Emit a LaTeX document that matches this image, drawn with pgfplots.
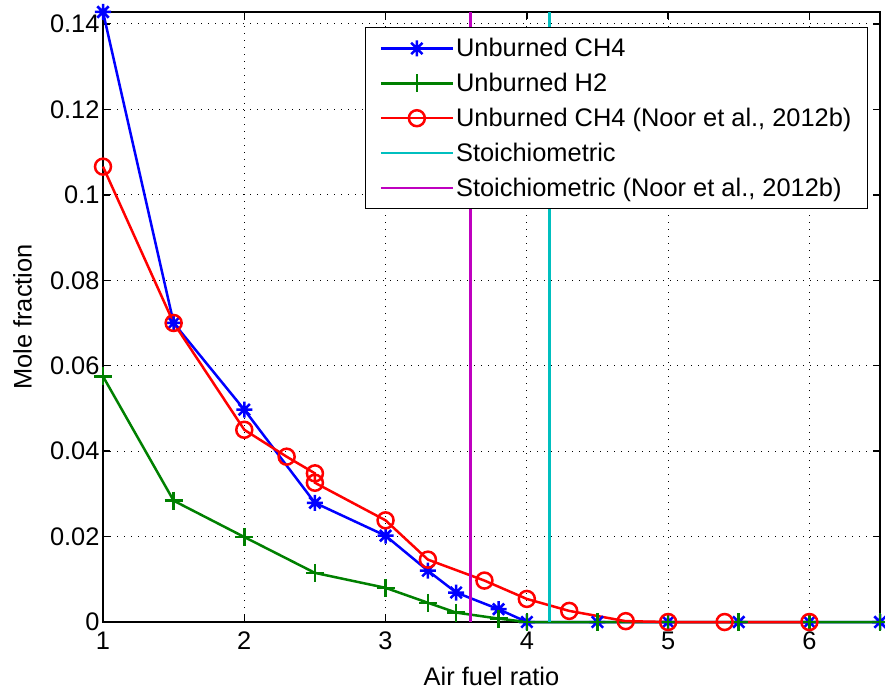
\documentclass[border=0pt]{standalone}
\usepackage{fontspec}
\setmainfont{Liberation Sans}
\usepackage{pgfplots}
\pgfplotsset{compat=1.18}

\definecolor{mblue}{RGB}{0,0,255}
\definecolor{mgreen}{RGB}{0,128,0}
\definecolor{mred}{RGB}{255,0,0}
\definecolor{mcyan}{RGB}{0,191,191}
\definecolor{mmag}{RGB}{191,0,191}

% matlab style asterisk: plus and cross together
\pgfdeclareplotmark{mstar}{%
  \pgfpathmoveto{\pgfpoint{-\pgfplotmarksize}{0pt}}%
  \pgfpathlineto{\pgfpoint{\pgfplotmarksize}{0pt}}%
  \pgfpathmoveto{\pgfpoint{0pt}{-\pgfplotmarksize}}%
  \pgfpathlineto{\pgfpoint{0pt}{\pgfplotmarksize}}%
  \pgfpathmoveto{\pgfpoint{-.707\pgfplotmarksize}{-.707\pgfplotmarksize}}%
  \pgfpathlineto{\pgfpoint{.707\pgfplotmarksize}{.707\pgfplotmarksize}}%
  \pgfpathmoveto{\pgfpoint{-.707\pgfplotmarksize}{.707\pgfplotmarksize}}%
  \pgfpathlineto{\pgfpoint{.707\pgfplotmarksize}{-.707\pgfplotmarksize}}%
  \pgfusepathqstroke}

\newcommand{\bigfont}{\fontsize{25.5}{30}\selectfont}

\begin{document}
\begin{tikzpicture}
\begin{axis}[
  scale only axis,
  width=777bp, height=610bp,
  xmin=1, xmax=6.5,
  ymin=0, ymax=0.1428,
  xtick={1,2,3,4,5,6},
  ytick={0,0.02,0.04,0.06,0.08,0.1,0.12,0.14},
  scaled y ticks=false,
  yticklabel style={/pgf/number format/fixed, /pgf/number format/precision=2},
  xticklabel style={yshift=-6bp},
  /pgf/number format/assume math mode=true,
  tick label style={font=\bigfont},
  label style={font=\bigfont},
  xlabel={Air fuel ratio},
  ylabel={Mole fraction},
  xlabel style={at={(axis description cs:0.5,-0.090)}, anchor=center},
  ylabel style={at={(axis description cs:-0.1036,0.5)}, anchor=center},
  axis line style={line width=2bp},
  tick align=inside,
  major tick length=7bp,
  tick style={black, line width=1.5bp},
  grid=major,
  major grid style={black, line width=1bp, dash pattern=on 1.2bp off 5.8bp},
  clip=false,
  legend style={at={(1,1)}, anchor=north east, xshift=-12bp, yshift=-15bp,
    draw=black, line width=1bp, fill=white,
    font=\bigfont,
    row sep=11bp, inner xsep=14bp, inner ysep=9bp},
  legend cell align=left,
  legend image code/.code={%
    \draw[mark repeat=2, mark phase=2, #1]
      plot coordinates {(0bp,0bp) (36bp,0bp) (72bp,0bp)};},
]
\addplot[mblue, line width=2.5bp, mark=mstar, mark size=8bp, mark options={solid}]
  coordinates {(1,0.1428) (1.5,0.0700) (2,0.0497) (2.5,0.0279) (3,0.0202)
    (3.3,0.0120) (3.5,0.0069) (3.8,0.0030) (4,0) (4.5,0) (5,0)
    (5.5,0) (6,0) (6.5,0)};
\addlegendentry{Unburned CH4}
\addplot[mgreen, line width=2.5bp, mark=+, mark size=9bp, mark options={solid}]
  coordinates {(1,0.0575) (1.5,0.0284) (2,0.0199) (2.5,0.0115) (3,0.0080)
    (3.3,0.0045) (3.5,0.0022) (3.8,0.0008) (4,0) (4.5,0) (5,0)
    (5.5,0) (6,0) (6.5,0)};
\addlegendentry{Unburned H2}
\addplot[mred, line width=2.5bp, mark=o, mark size=8bp, mark options={solid}]
  coordinates {(1,0.1066) (1.5,0.0700) (2,0.0450) (2.3,0.0387) (2.5,0.0348)
    (2.5,0.0326) (3,0.0238) (3.3,0.0146) (3.7,0.0097) (4,0.0054)
    (4.3,0.0026) (4.7,0.0002) (5,0) (5.4,0) (6,0)};
\addlegendentry{Unburned CH4 (Noor et al., 2012b)}
\addplot[mcyan, line width=2.5bp] coordinates {(4.16,0) (4.16,0.1428)};
\addlegendentry{Stoichiometric}
\addplot[mmag, line width=2.5bp] coordinates {(3.6,0) (3.6,0.1428)};
\addlegendentry{Stoichiometric (Noor et al., 2012b)}
\end{axis}
\pgfresetboundingbox
\path[use as bounding box] ([xshift=-103bp,yshift=-70bp]current axis.south west)
  rectangle ([xshift=5bp,yshift=12bp]current axis.north east);
\end{tikzpicture}
\end{document}
